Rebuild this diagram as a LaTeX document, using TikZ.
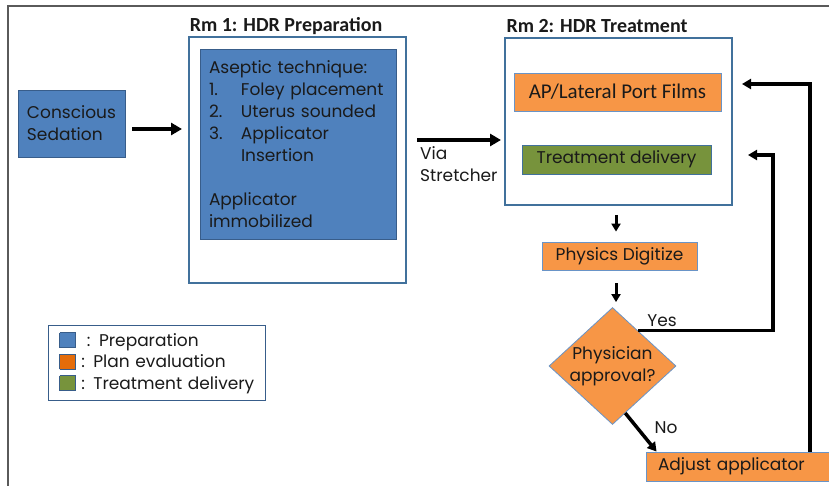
\documentclass[tikz,border=0pt]{standalone}
\usepackage{fontspec}
\setmainfont{Poppins}
\newfontfamily\calib{Carlito}
\usepackage{xcolor}
\usetikzlibrary{shapes,arrows,positioning,calc,arrows.meta}

\definecolor{prepblue}{HTML}{4F81BD}
\definecolor{prepline}{HTML}{385D8A}
\definecolor{planorange}{HTML}{F79646}
\definecolor{legorange}{HTML}{E46C0A}
\definecolor{delivgreen}{HTML}{77933C}
\definecolor{roomline}{HTML}{41719C}
\definecolor{framegray}{HTML}{5A5A5A}
\definecolor{ink}{HTML}{1A1A1A}

% small coloured square for the legend
\newcommand{\legsq}[1]{\raisebox{-1pt}{\setlength{\fboxsep}{0pt}\setlength{\fboxrule}{0.8pt}\fcolorbox{prepline}{#1}{\rule{0pt}{14.5pt}\hspace{14.5pt}}}}

\begin{document}
\begin{tikzpicture}[x=1pt,y=-1pt,
    font=\fontsize{17}{22}\selectfont, text=ink,
    room/.style={draw=roomline, line width=2pt, fill=white},
    prep/.style={draw=prepline, line width=0.8pt, fill=prepblue, align=left, inner xsep=9pt},
    plan/.style={draw=prepblue!85, line width=0.8pt, fill=planorange},
    deliv/.style={draw=roomline, line width=0.8pt, fill=delivgreen},
    title/.style={font=\calib\bfseries\fontsize{20}{22}\selectfont},
    flow/.style={-{Triangle[length=11pt,width=12pt]}, line width=4.5pt},
    feed/.style={-{Triangle[length=9pt,width=10pt]}, line width=3.5pt},
    small/.style={-{Triangle[length=8pt,width=9pt]}, line width=3pt}]

    \useasboundingbox (0,0) rectangle (829,486);
    \clip (0,0) rectangle (829,486);
    \fill[white] (0,0) rectangle (829,486);

    % Frame
    \draw[framegray, line width=2pt] (8,486) -- (8,6) -- (829,6);

    % Room 1
    \node[title] (rm1title) at (286,26) {Rm 1: HDR Preparation};
    \node[room, minimum width=217pt, minimum height=246pt] (room1) at (297.5,160) {};
    \node[prep, text width=178pt, minimum height=190pt] (aseptic) at (298,144)
        {Aseptic technique:\\
         \makebox[32pt][l]{1.}Foley placement\\
         \makebox[32pt][l]{2.}Uterus sounded\\
         \makebox[32pt][l]{3.}Applicator\\
         \hspace*{32pt}Insertion\\[22pt]
         Applicator\\
         immobilized};

    \node[prep, text width=89pt, minimum height=67pt] (sedation) at (71.5,123.5) {Conscious\\Sedation};
    \draw[flow] ([xshift=7pt,yshift=-5.5pt]sedation.east) -- ([xshift=-6pt,yshift=31pt]room1.west);

    % Room 2
    \node[title] (rm2title) at (597,26) {Rm 2: HDR Treatment};
    \node[room, minimum width=227pt, minimum height=167pt] (room2) at (618.5,121.5) {};
    \node[plan, font=\calib\fontsize{21}{22}\selectfont, minimum width=207pt, minimum height=38pt, inner sep=0] (portfilms) at (617.5,92) {AP/Lateral Port Films};
    \node[deliv, minimum width=189pt, minimum height=29pt, inner sep=0] (delivery) at (616.5,159.5) {Treatment delivery};

    \draw[flow] ([xshift=10pt,yshift=20pt]room1.east) -- ([xshift=-3pt,yshift=-18.5pt]room2.west);
    \node[align=left, anchor=north west, inner sep=0] (via) at (420,146) {Via\\Stretcher};

    % Plan check
    \node[plan, minimum width=155pt, minimum height=28pt, inner sep=0] (physics) at (619.5,256) {Physics Digitize};
    \node[plan, diamond, minimum width=127pt, minimum height=117pt, inner sep=0,
          label={[align=center]center:Physician\\approval?}] (approval) at (612.5,366) {};
    \node[plan, minimum width=214pt, minimum height=29pt, text width=190pt, align=left, inner xsep=12pt] (adjust) at (753,466.5) {Adjust applicator};

    \draw[small] ([xshift=-2.5pt,yshift=-9pt]room2.south) -- ([xshift=-3.5pt,yshift=10pt]physics.north);
    \draw[small] ([xshift=-3.5pt,yshift=-13pt]physics.south) -- ([xshift=3.5pt,yshift=5pt]approval.north);

    % Yes / No loops
    \coordinate (yesturn) at (773,155);
    \coordinate (yestip) at (748,155);
    \coordinate (adjturn) at (810,84);
    \coordinate (adjtip) at (742,84);
    \draw[feed] ($(approval.north)!0.4!(approval.east)$) -| (yesturn) -- (yestip);
    \node (yes) at (662,321) {Yes};
    \draw[feed] ($(approval.south)!0.2!(approval.east)$) -- ([xshift=11pt]adjust.north west);
    \node (no) at (666,428) {No};
    \draw[feed] (adjust.north -| adjturn) -- (adjturn) -- (adjtip);

    % Legend
    \node[draw=prepline, line width=1.8pt, minimum width=217pt, minimum height=75pt,
          text width=195pt, align=left, inner xsep=11pt, font=\fontsize{17}{21.5}\selectfont] (legend) at (157,363)
        {\legsq{prepblue}\ \ : Preparation\\
         \legsq{legorange}\ : Plan evaluation\\
         \legsq{delivgreen}\ : Treatment delivery};
\end{tikzpicture}
\end{document}
